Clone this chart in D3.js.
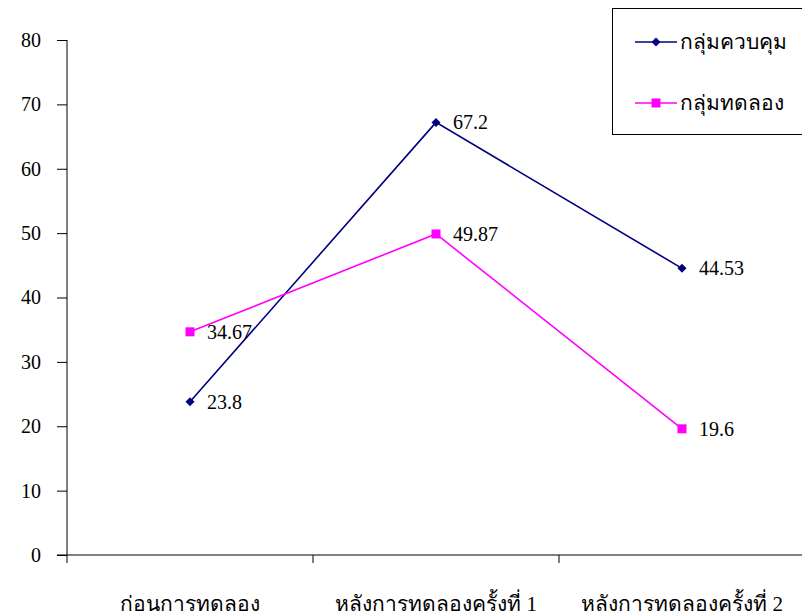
<!DOCTYPE html>
<html><head><meta charset="utf-8">
<script src="https://cdn.jsdelivr.net/npm/d3@7"></script>
<style>body{margin:0;background:#fff} svg text{font-family:"Liberation Serif","DejaVu Serif","Times New Roman",serif;}</style>
</head><body>
<svg id="c" width="802" height="616"></svg>
<script>
const categories = ["ก่อนการทดลอง", "หลังการทดลองครั้งที่ 1", "หลังการทดลองครั้งที่ 2"];
const controlValues = [23.8, 67.2, 44.53];
const experimentValues = [34.67, 49.87, 19.6];
const controlLabels = ["23.8", "67.2", "44.53"];
const experimentLabels = ["34.67", "49.87", "19.6"];
const yTicks = [0, 10, 20, 30, 40, 50, 60, 70, 80];
const seriesNames = ["กลุ่มควบคุม", "กลุ่มทดลอง"];

const svg = d3.select("#c");
const x = d3.scaleBand().domain(categories).range([67, 805]);
const y = d3.scaleLinear().domain([0, 80]).range([555, 40]);

// y axis
const yAxis = svg.append("g").attr("transform", "translate(67,0)")
  .call(d3.axisLeft(y).tickValues(yTicks).tickSize(10).tickPadding(16).tickSizeOuter(0));
yAxis.select(".domain").remove();
yAxis.selectAll("text").attr("font-family", null).attr("font-size", 20).attr("fill", "#000");
yAxis.selectAll("line").attr("stroke", "#000");
svg.append("line").attr("x1", 67).attr("x2", 67).attr("y1", 40).attr("y2", 563).attr("stroke", "#000");

// x axis
svg.append("line").attr("x1", 57).attr("x2", 805).attr("y1", 555).attr("y2", 555).attr("stroke", "#000");
const bounds = categories.slice(1).map(c => x(c));
svg.selectAll(".xt").data(bounds).enter().append("line")
  .attr("x1", d => d).attr("x2", d => d).attr("y1", 555).attr("y2", 563).attr("stroke", "#000");
svg.selectAll(".xl").data(categories).enter().append("text")
  .attr("x", d => x(d) + x.bandwidth() / 2).attr("y", 611)
  .attr("text-anchor", "middle").attr("font-size", 21).text(d => d);

const cx = d => x(d) + x.bandwidth() / 2;
const line = d3.line().x(d => cx(d.c)).y(d => y(d.v));
const ctrl = categories.map((c, i) => ({c, v: controlValues[i], l: controlLabels[i]}));
const expt = categories.map((c, i) => ({c, v: experimentValues[i], l: experimentLabels[i]}));

svg.append("path").datum(ctrl).attr("d", line).attr("fill", "none").attr("stroke", "#000080").attr("stroke-width", 1.6);
svg.append("path").datum(expt).attr("d", line).attr("fill", "none").attr("stroke", "#FF00FF").attr("stroke-width", 1.6);

const diamondPath = "M0,-4.5L4.5,0L0,4.5L-4.5,0Z";
svg.selectAll(".dm").data(ctrl).enter().append("path")
  .attr("d", diamondPath).attr("transform", d => `translate(${cx(d.c)},${y(d.v)})`).attr("fill", "#000080");
svg.selectAll(".sq").data(expt).enter().append("rect")
  .attr("x", d => cx(d.c) - 4.5).attr("y", d => y(d.v) - 4.5).attr("width", 9).attr("height", 9).attr("fill", "#FF00FF");

svg.selectAll(".cl").data(ctrl.concat(expt)).enter().append("text")
  .attr("x", d => cx(d.c) + 17).attr("y", d => y(d.v) + 7)
  .attr("font-size", 20).text(d => d.l);

// legend
svg.append("rect").attr("x", 612.5).attr("y", 8.5).attr("width", 200).attr("height", 126)
  .attr("fill", "#fff").attr("stroke", "#000");
const colors = ["#000080", "#FF00FF"];
const ly = [42, 103];
seriesNames.forEach((n, i) => {
  svg.append("line").attr("x1", 635).attr("x2", 677).attr("y1", ly[i]).attr("y2", ly[i]).attr("stroke", colors[i]).attr("stroke-width", 1.6);
  if (i === 0) svg.append("path").attr("d", diamondPath).attr("transform", `translate(656,${ly[i]})`).attr("fill", colors[i]);
  else svg.append("rect").attr("x", 651.5).attr("y", ly[i] - 4.5).attr("width", 9).attr("height", 9).attr("fill", colors[i]);
  svg.append("text").attr("x", 680).attr("y", ly[i] + 7).attr("font-size", 21).text(n);
});
</script>
</body></html>
